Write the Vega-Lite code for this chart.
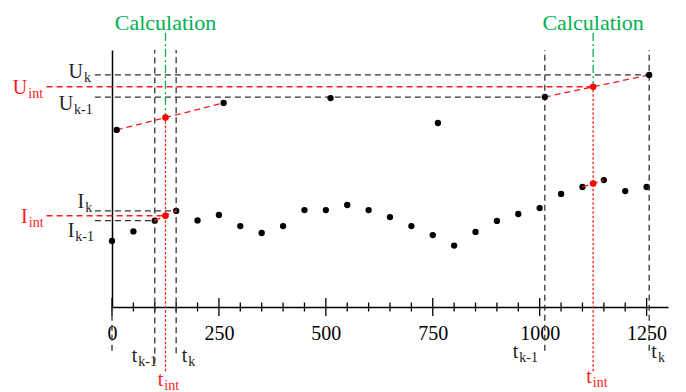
{
  "$schema": "https://vega.github.io/schema/vega-lite/v6.json",
  "width": 556,
  "height": 257,
  "autosize": {"type": "none"},
  "padding": {"left": 112, "top": 50, "right": 18, "bottom": 85},
  "background": "white",
  "config": {"view": {"stroke": null}, "font": "'Liberation Serif', 'Times New Roman', Times, 'DejaVu Serif', serif"},
  "datasets": {
    "lower": [
      {"t": 0, "v": 25.7}, {"t": 50, "v": 29.4}, {"t": 100, "v": 33.6}, {"t": 150, "v": 37.4},
      {"t": 200, "v": 33.7}, {"t": 250, "v": 35.8}, {"t": 300, "v": 31.5}, {"t": 350, "v": 28.8},
      {"t": 400, "v": 31.5}, {"t": 450, "v": 37.7}, {"t": 500, "v": 37.7}, {"t": 550, "v": 39.7},
      {"t": 600, "v": 37.7}, {"t": 650, "v": 35.0}, {"t": 700, "v": 31.5}, {"t": 750, "v": 28.0},
      {"t": 800, "v": 23.9}, {"t": 850, "v": 29.2}, {"t": 900, "v": 33.5}, {"t": 950, "v": 36.2},
      {"t": 1000, "v": 38.5}, {"t": 1050, "v": 44.0}, {"t": 1100, "v": 46.7}, {"t": 1150, "v": 49.4},
      {"t": 1200, "v": 45.1}, {"t": 1250, "v": 46.7}
    ],
    "upper": [
      {"t": 11, "v": 68.9}, {"t": 261, "v": 79.4}, {"t": 511, "v": 81.3},
      {"t": 762, "v": 71.6}, {"t": 1012, "v": 81.7}, {"t": 1256, "v": 90.3}
    ],
    "interp": [
      {"t": 125, "v": 73.7}, {"t": 1125, "v": 85.7}, {"t": 125, "v": 35.5}, {"t": 1125, "v": 48.05}
    ],
    "ticks": [
      {"t": 0, "major": true}, {"t": 50, "major": false}, {"t": 100, "major": false}, {"t": 150, "major": false},
      {"t": 200, "major": false}, {"t": 250, "major": true}, {"t": 300, "major": false}, {"t": 350, "major": false},
      {"t": 400, "major": false}, {"t": 450, "major": false}, {"t": 500, "major": true}, {"t": 550, "major": false},
      {"t": 600, "major": false}, {"t": 650, "major": false}, {"t": 700, "major": false}, {"t": 750, "major": true},
      {"t": 800, "major": false}, {"t": 850, "major": false}, {"t": 900, "major": false}, {"t": 950, "major": false},
      {"t": 1000, "major": true}, {"t": 1050, "major": false}, {"t": 1100, "major": false}, {"t": 1150, "major": false},
      {"t": 1200, "major": false}, {"t": 1250, "major": true}
    ],
    "guides": [
      {"x1": 100, "x2": 100, "y1": -22, "y2": 100},
      {"x1": 150, "x2": 150, "y1": -18, "y2": 100},
      {"x1": 1012, "x2": 1012, "y1": -17, "y2": 100},
      {"x1": 1256, "x2": 1256, "y1": -17, "y2": 100},
      {"x1": 0, "x2": 0, "y1": -17, "y2": 0},
      {"x1": -40, "x2": 1256, "y1": 90.3, "y2": 90.3},
      {"x1": -40, "x2": 1012, "y1": 81.7, "y2": 81.7},
      {"x1": -40, "x2": 150, "y1": 37.4, "y2": 37.4},
      {"x1": -40, "x2": 100, "y1": 33.6, "y2": 33.6}
    ],
    "reddash": [
      {"x1": -153, "x2": 1125, "y1": 85.7, "y2": 85.7},
      {"x1": -153, "x2": 125, "y1": 35.5, "y2": 35.5},
      {"x1": 11, "x2": 261, "y1": 68.9, "y2": 79.4},
      {"x1": 1012, "x2": 1256, "y1": 81.7, "y2": 90.3},
      {"x1": 100, "x2": 150, "y1": 33.6, "y2": 37.4},
      {"x1": 1100, "x2": 1150, "y1": 46.7, "y2": 49.4}
    ],
    "reddot": [
      {"x1": 125, "x2": 125, "y1": -25, "y2": 73.7},
      {"x1": 1125, "x2": 1125, "y1": -25, "y2": 85.7}
    ],
    "green": [
      {"x1": 125, "x2": 125, "y1": 106.6, "y2": 73.7},
      {"x1": 1125, "x2": 1125, "y1": 106.6, "y2": 85.7}
    ],
    "labels": [
      {"main": "U", "sub": "k", "x": -68, "y": 89.1, "role": "measured"},
      {"main": "U", "sub": "k-1", "x": -91, "y": 76.7, "role": "measured"},
      {"main": "U", "sub": "int", "x": -198, "y": 82.9, "role": "interpolated"},
      {"main": "I", "sub": "k", "x": -65, "y": 38.5, "role": "measured"},
      {"main": "I", "sub": "k-1", "x": -88, "y": 27.2, "role": "measured"},
      {"main": "I", "sub": "int", "x": -197, "y": 32.7, "role": "interpolated"},
      {"main": "t", "sub": "k-1", "x": 59, "y": -21.3, "role": "measured"},
      {"main": "t", "sub": "k", "x": 176, "y": -21.3, "role": "measured"},
      {"main": "t", "sub": "int", "x": 120, "y": -30.6, "role": "interpolated"},
      {"main": "t", "sub": "k-1", "x": 950, "y": -20, "role": "measured"},
      {"main": "t", "sub": "k", "x": 1274, "y": -20, "role": "measured"},
      {"main": "t", "sub": "int", "x": 1122, "y": -29.6, "role": "interpolated"}
    ],
    "calc": [
      {"x": 125, "y": 107.8, "label": "Calculation"},
      {"x": 1125, "y": 107.8, "label": "Calculation"}
    ]
  },
  "layer": [
    {
      "data": {"name": "lower"},
      "mark": {"type": "circle", "size": 40, "color": "#000", "opacity": 1},
      "encoding": {
        "x": {"field": "t", "type": "quantitative", "title": null,
              "scale": {"domain": [0, 1300], "nice": false, "zero": false},
              "axis": {"values": [0, 250, 500, 750, 1000, 1250], "format": "d", "grid": false, "ticks": false, "tickSize": 0,
                       "domainColor": "#000", "domainWidth": 1.5, "labelFont": "'Liberation Serif', 'Times New Roman', Times, 'DejaVu Serif', serif",
                       "labelFontSize": 20, "labelColor": "#000", "labelPadding": 16, "labelFlush": false, "labelOverlap": false}},
        "y": {"field": "v", "type": "quantitative", "title": null,
              "scale": {"domain": [0, 100], "nice": false, "zero": false},
              "axis": {"labels": false, "ticks": false, "grid": false, "domainColor": "#000", "domainWidth": 1.5}}
      }
    },
    {
      "data": {"name": "ticks"},
      "transform": [{"filter": "datum.major"}],
      "mark": {"type": "rule", "color": "#000", "strokeWidth": 1.3},
      "encoding": {
        "x": {"field": "t", "type": "quantitative"},
        "y": {"datum": -3.5},
        "y2": {"datum": 3.5}
      }
    },
    {
      "data": {"name": "ticks"},
      "transform": [{"filter": "!datum.major"}],
      "mark": {"type": "rule", "color": "#000", "strokeWidth": 1.3},
      "encoding": {
        "x": {"field": "t", "type": "quantitative"},
        "y": {"datum": -1.75},
        "y2": {"datum": 1.75}
      }
    },
    {
      "data": {"name": "guides"},
      "mark": {"type": "rule", "color": "#333", "strokeWidth": 1.3, "strokeDash": [6, 4]},
      "encoding": {
        "x": {"field": "x1", "type": "quantitative"}, "x2": {"field": "x2"},
        "y": {"field": "y1", "type": "quantitative"}, "y2": {"field": "y2"}
      }
    },
    {
      "data": {"name": "reddash"},
      "mark": {"type": "rule", "color": "#ff1a1a", "strokeWidth": 1.3, "strokeDash": [6, 4]},
      "encoding": {
        "x": {"field": "x1", "type": "quantitative"}, "x2": {"field": "x2"},
        "y": {"field": "y1", "type": "quantitative"}, "y2": {"field": "y2"}
      }
    },
    {
      "data": {"name": "reddot"},
      "mark": {"type": "rule", "color": "#ff1a1a", "strokeWidth": 1.3, "strokeDash": [2.5, 2]},
      "encoding": {
        "x": {"field": "x1", "type": "quantitative"}, "x2": {"field": "x2"},
        "y": {"field": "y1", "type": "quantitative"}, "y2": {"field": "y2"}
      }
    },
    {
      "data": {"name": "green"},
      "mark": {"type": "rule", "color": "#00b050", "strokeWidth": 1.3, "strokeDash": [8, 3, 2, 3]},
      "encoding": {
        "x": {"field": "x1", "type": "quantitative"}, "x2": {"field": "x2"},
        "y": {"field": "y1", "type": "quantitative"}, "y2": {"field": "y2"}
      }
    },
    {
      "data": {"name": "upper"},
      "mark": {"type": "circle", "size": 40, "color": "#000", "opacity": 1},
      "encoding": {
        "x": {"field": "t", "type": "quantitative"},
        "y": {"field": "v", "type": "quantitative"}
      }
    },
    {
      "data": {"name": "interp"},
      "mark": {"type": "circle", "size": 44, "color": "#ff0000", "opacity": 1},
      "encoding": {
        "x": {"field": "t", "type": "quantitative"},
        "y": {"field": "v", "type": "quantitative"}
      }
    },
    {
      "data": {"name": "labels"},
      "mark": {"type": "text", "align": "right", "baseline": "alphabetic", "fontSize": 20},
      "encoding": {
        "x": {"field": "x", "type": "quantitative"},
        "y": {"field": "y", "type": "quantitative"},
        "text": {"field": "main"},
        "color": {"field": "role", "type": "nominal", "legend": null,
                  "scale": {"domain": ["measured", "interpolated"], "range": ["#222", "#ff1a1a"]}}
      }
    },
    {
      "data": {"name": "labels"},
      "mark": {"type": "text", "align": "left", "baseline": "alphabetic", "fontSize": 14, "dx": 1, "dy": 4},
      "encoding": {
        "x": {"field": "x", "type": "quantitative"},
        "y": {"field": "y", "type": "quantitative"},
        "text": {"field": "sub"},
        "color": {"field": "role", "type": "nominal", "legend": null}
      }
    },
    {
      "data": {"name": "calc"},
      "mark": {"type": "text", "align": "center", "baseline": "alphabetic", "fontSize": 22, "color": "#00b050"},
      "encoding": {
        "x": {"field": "x", "type": "quantitative"},
        "y": {"field": "y", "type": "quantitative"},
        "text": {"field": "label"}
      }
    }
  ]
}
